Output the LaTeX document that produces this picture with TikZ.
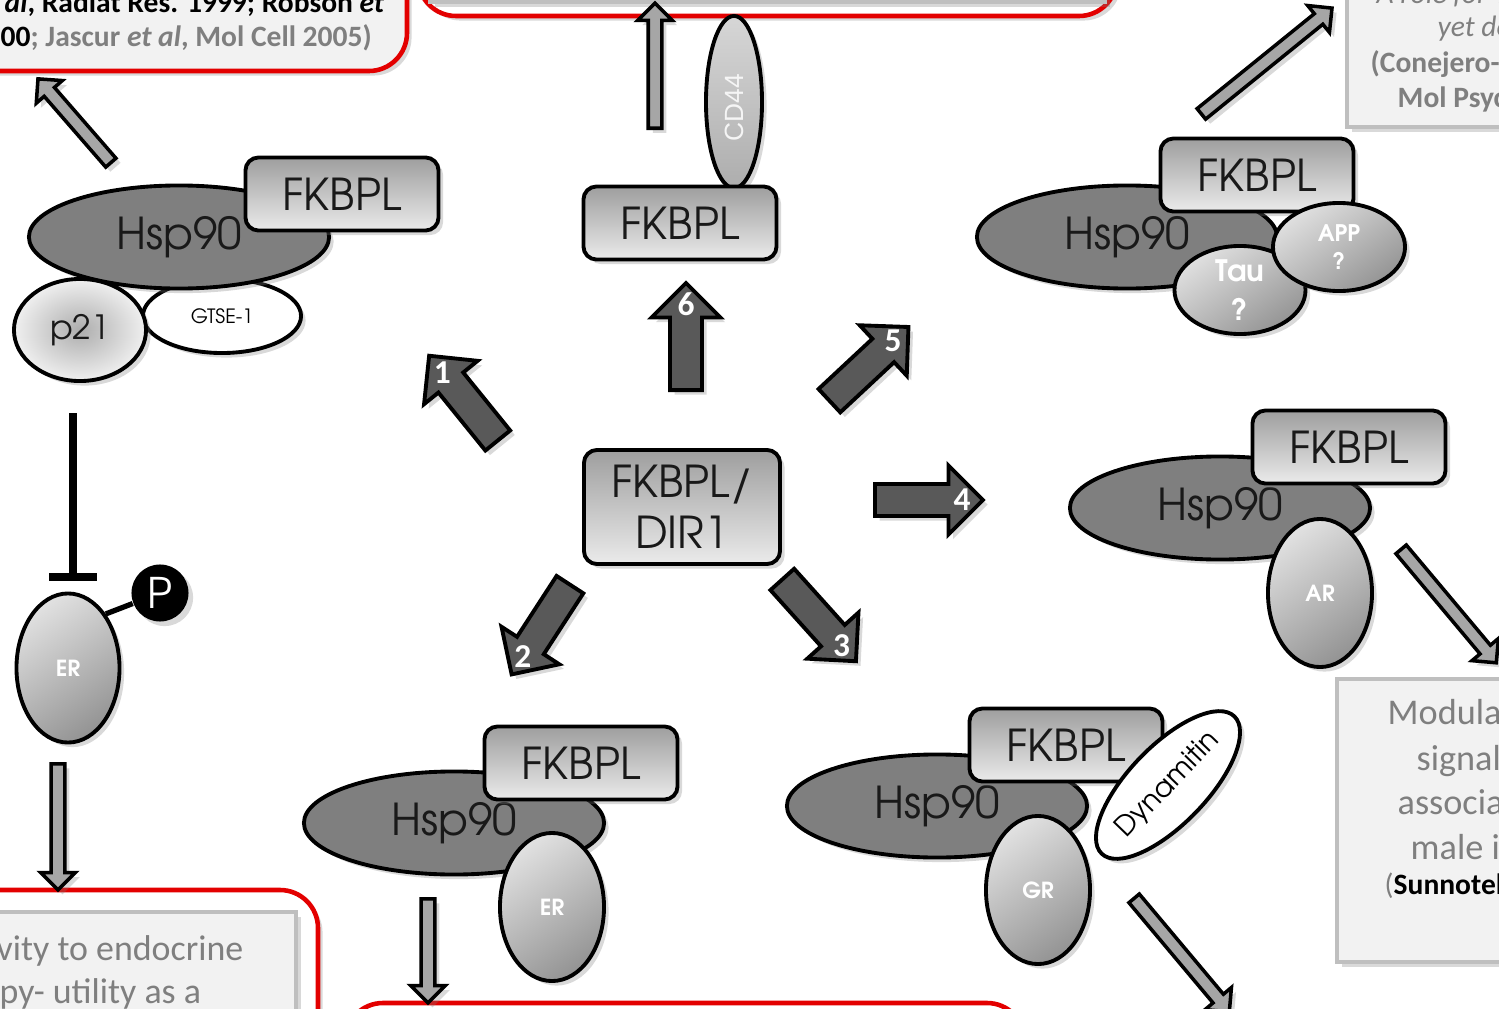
\documentclass[tikz,border=0pt]{standalone}
\usepackage{fontspec}
\setmainfont{Carlito}
\newfontfamily\gothic{texgyreadventor}[Extension=.otf,UprightFont=*-regular,BoldFont=*-bold]
\newfontfamily\arialfont{Liberation Sans}
\usetikzlibrary{shapes.geometric,shapes.arrows,shadows,calc,arrows.meta}

\definecolor{boxfill}{HTML}{F2F2F2}
\definecolor{boxedge}{HTML}{BFBFBF}
\definecolor{reftext}{HTML}{7F7F7F}
\definecolor{hspfill}{HTML}{7F7F7F}
\definecolor{bigarr}{HTML}{595959}
\definecolor{thinarr}{HTML}{A6A6A6}
\definecolor{framered}{HTML}{E30000}

\tikzset{
  softshadow/.style={drop shadow={shadow xshift=1.3pt,shadow yshift=-1.3pt,opacity=.3}},
  framebox/.style={draw=framered,line width=1.3pt,rounded corners=0.38cm,softshadow},
  refbox/.style={draw=boxedge,line width=1pt,fill=boxfill,softshadow},
  reftxt/.style={anchor=base west,inner sep=0pt,text=reftext},
  fkbpl/.style={rectangle,rounded corners=0.13cm,draw,line width=1.1pt,
    top color=black!38,bottom color=black!8,minimum width=1.93cm,minimum height=0.73cm,
    inner sep=0pt,text=black!90,font=\gothic\fontsize{12.5}{14.5}\selectfont,softshadow},
  hsp/.style={ellipse,draw,line width=1.1pt,fill=hspfill,minimum width=3.0cm,
    minimum height=1.03cm,inner sep=0pt,text=black!90,
    font=\gothic\fontsize{12.5}{14}\selectfont,softshadow},
  partner/.style={ellipse,draw,line width=1.1pt,top color=black!12,bottom color=black!42,
    shading angle=35,minimum width=1.04cm,minimum height=1.48cm,inner sep=0pt,
    text=white,align=center,font=\gothic\bfseries\fontsize{6.3}{8}\selectfont,softshadow},
  bigarrow/.style={single arrow,draw,line width=1.1pt,fill=bigarr,inner sep=0pt,
    inner ysep=0.14cm,single arrow head extend=0.185cm,anchor=tail,softshadow},
  thinarrow/.style={single arrow,draw,line width=1pt,fill=thinarr,inner sep=0pt,
    inner ysep=0.05cm,single arrow head extend=0.105cm,anchor=tail,softshadow},
  num/.style={inner sep=0pt,text=white,font=\bfseries\fontsize{9.5}{9.5}\selectfont},
  inhibit/.style={line width=2.3pt,-{Bar[width=0.47cm]}}
}

\begin{document}
\begin{tikzpicture}[x=0.01cm,y=-0.01cm]
\useasboundingbox (0,0) rectangle (1499,1009);
\clip (0,0) rectangle (1499,1009);

% outcome boxes, cut by the edge
\draw[framebox,fill=boxfill] (-80,-80) rectangle (407,71);
\draw[framebox,fill=white] (418,-80) rectangle (1117,16);
\draw[refbox] (430,-80) rectangle (1105,2);
\draw[framebox,fill=white] (-80,890) rectangle (318,1100);
\draw[refbox] (-80,912) rectangle (296,1100);
\draw[framebox,fill=white] (345,1003) rectangle (1025,1100);
\draw[refbox] (1347,-80) rectangle (1580,127);
\draw[refbox] (1337,679) rectangle (1580,962);

\node[reftxt,text=black,font=\bfseries\fontsize{8.4}{9.7}\selectfont] (tlA) at (4,12)
  {\textit{al}, Radiat Res. 1999; Robson \textit{et}};
\node[reftxt,font=\bfseries\fontsize{8.4}{9.7}\selectfont] (tlB) at (0,47)
  {\textcolor{black}{00}; Jascur \textit{et al}, Mol Cell 2005)};
\node[reftxt,font=\itshape\fontsize{8.4}{9.7}\selectfont] (trA) at (1376,4) {A role for T};
\node[reftxt,font=\itshape\fontsize{8.4}{9.7}\selectfont] (trB) at (1437,37) {yet de};
\node[reftxt,font=\bfseries\fontsize{8.4}{9.7}\selectfont] (trC) at (1370,73) {(Conejero-};
\node[reftxt,font=\bfseries\fontsize{8.4}{9.7}\selectfont] (trD) at (1397,107) {Mol Psyc};
\node[reftxt,font=\fontsize{10.3}{12}\selectfont] (brA) at (1387,724) {Modula};
\node[reftxt,font=\fontsize{10.3}{12}\selectfont] (brB) at (1416,770) {signal};
\node[reftxt,font=\fontsize{10.3}{12}\selectfont] (brC) at (1397,814) {associa};
\node[reftxt,font=\fontsize{10.3}{12}\selectfont] (brD) at (1410,859) {male i};
\node[reftxt,font=\fontsize{8.4}{10}\selectfont] (brE) at (1384,894)
  {(\textbf{\textcolor{black}{Sunnotel}}};
\node[reftxt,font=\fontsize{10.2}{12}\selectfont] (blA) at (-4,960) {vity to endocrine};
\node[reftxt,font=\fontsize{10.2}{12}\selectfont] (blB) at (-1,1003) {py- utility as a};

% thin arrows to the outcomes
\node[thinarrow,minimum height=1.11cm,rotate=131] (out1) at (112,164) {};
\node[thinarrow,minimum height=1.25cm,rotate=90] (out6) at (655,130) {};
\node[thinarrow,minimum height=1.68cm,rotate=39] (out5) at (1200,115) {};
\node[thinarrow,minimum height=1.48cm,rotate=-50] (out4) at (1400,548) {};
\node[thinarrow,minimum height=1.48cm,rotate=-50] (out3) at (1133,897) {};
\node[thinarrow,minimum height=1.04cm,rotate=-90] (out2) at (428,897) {};
\node[thinarrow,minimum height=1.26cm,rotate=-90] (outer) at (58,762) {};

% 1: p21 / GTSE-1
\node[ellipse,draw,line width=1.1pt,fill=white,minimum width=1.58cm,minimum height=0.74cm,
  font=\gothic\fontsize{5.6}{6}\selectfont,softshadow] (gtse) at (222,316) {GTSE-1};
\node[hsp] (hsp1) at (179,237) {Hsp90};
\node[fkbpl] (fk1) at (342,194) {FKBPL};
\node[ellipse,draw,line width=1.1pt,inner color=black!32,outer color=black!6,
  minimum width=1.32cm,minimum height=1.02cm,text=black!90,
  font=\gothic\fontsize{9.5}{10}\selectfont,softshadow] (p21) at (80,330) {p21};

% 6: CD44
\node[ellipse,draw,line width=1.1pt,top color=black!16,bottom color=black!32,
  minimum width=0.56cm,minimum height=1.72cm,softshadow] (cd44) at (734,102) {};
\node[rotate=90,text=white!96!black,font=\arialfont\fontsize{7.5}{8}\selectfont] (cd44lbl)
  at (734,108) {CD44};
\node[fkbpl] (fk6) at (680,223) {FKBPL};

% 5: Tau / APP
\node[hsp] (hsp5) at (1127,237) {Hsp90};
\node[fkbpl] (fk5) at (1257,175) {FKBPL};
\node[partner,minimum width=1.31cm,minimum height=0.88cm,
  font=\gothic\bfseries\fontsize{8.4}{11.2}\selectfont] (tau) at (1240,290) {Tau\\?};
\node[partner,minimum width=1.32cm,minimum height=0.88cm,
  font=\gothic\bfseries\fontsize{6.5}{8}\selectfont] (app) at (1339,247) {APP\\?};

% 4: AR
\node[hsp] (hsp4) at (1220,508) {Hsp90};
\node[fkbpl] (fk4) at (1349,447) {FKBPL};
\node[partner] (ar) at (1320,593) {AR};

% 2: ER
\node[hsp] (hsp2) at (454,823) {Hsp90};
\node[fkbpl] (fk2) at (581,763) {FKBPL};
\node[partner] (er2) at (552,907) {ER};

% 3: GR / dynamitin
\node[hsp] (hsp3) at (937,806) {Hsp90};
\node[fkbpl] (fk3) at (1066,745) {FKBPL};
\node[partner] (gr) at (1038,890) {GR};
\node[ellipse,draw,line width=1.1pt,fill=white,minimum width=1.6cm,minimum height=0.78cm,
  inner sep=0pt,rotate=46,font=\gothic\fontsize{7.9}{8}\selectfont,softshadow] (dyn)
  at (1168,785) {Dynamitin};

% centre and the six routes
\node[fkbpl,minimum width=1.96cm,minimum height=1.14cm,align=center] (dir1) at (682,507)
  {FKBPL/\\DIR1};
\node[bigarrow,minimum height=1.09cm,rotate=129] (a1) at (499,442) {};
\node[bigarrow,minimum height=1.07cm,rotate=-123] (a2) at (571,583) {};
\node[bigarrow,minimum height=1.10cm,rotate=-48] (a3) at (781,578) {};
\node[bigarrow,minimum height=1.08cm,rotate=0] (a4) at (873,500) {};
\node[bigarrow,minimum height=1.08cm,rotate=43] (a5) at (828,402) {};
\node[bigarrow,minimum height=1.07cm,rotate=90] (a6) at (686,392) {};
\node[num] (n1) at ($(a1.tip)!0.21!(a1.tail)$) {1};
\node[num] (n2) at ($(a2.tip)!0.21!(a2.tail)$) {2};
\node[num] (n3) at ($(a3.tip)!0.21!(a3.tail)$) {3};
\node[num] (n4) at ($(a4.tip)!0.21!(a4.tail)$) {4};
\node[num] (n5) at ($(a5.tip)!0.21!(a5.tail)$) {5};
\node[num] (n6) at ($(a6.tip)!0.21!(a6.tail)$) {6};

% p21 blocks ER
\coordinate (inhtop) at (73,413);
\coordinate (inhend) at (73,581);
\draw[inhibit] (inhtop) -- (inhend);
\node[partner,minimum width=1.03cm,minimum height=1.49cm] (er1) at (68,668) {ER};
\node[circle,fill=black,minimum size=0.57cm,inner sep=0pt,text=white,
  font=\gothic\fontsize{12}{12}\selectfont,softshadow] (phos) at (160,593) {P};
\draw[line width=1.5pt] (er1.north east) -- (phos);
\end{tikzpicture}
\end{document}
